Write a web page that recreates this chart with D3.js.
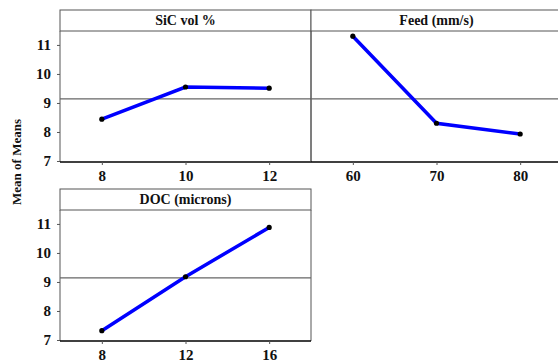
<!DOCTYPE html>
<html>
<head>
<meta charset="utf-8">
<script src="https://cdn.jsdelivr.net/npm/d3@7"></script>
<style>
  body { margin: 0; background: #fff; }
  svg { display: block; }
  text { font-family: "Liberation Serif", "Times New Roman", serif; font-weight: bold; fill: #111; }
</style>
</head>
<body>
<div id="chart"></div>
<script>
(function mainEffects() {

  // factor levels and mean of means per level
  var sicLevels = ["8", "10", "12"];
  var sicMeans = [8.44, 9.55, 9.51];

  var feedLevels = ["60", "70", "80"];
  var feedMeans = [11.30, 8.30, 7.93];

  var docLevels = ["8", "12", "16"];
  var docMeans = [7.32, 9.18, 10.88];

  var yTicks = [7, 8, 9, 10, 11];
  var grandMean = 9.14;

  var panels = [
    { title: "SiC vol %", levels: sicLevels, means: sicMeans, col: 0, row: 0 },
    { title: "Feed (mm/s)", levels: feedLevels, means: feedMeans, col: 1, row: 0 },
    { title: "DOC (microns)", levels: docLevels, means: docMeans, col: 0, row: 1 }
  ];

  var width = 558, height = 363;
  var left = 60, panelW = 251, stripH = 21, plotH = 131;
  var rowTop = [10, 189];

  var svg = d3.select("#chart").append("svg")
    .attr("width", width)
    .attr("height", height);

  var y = d3.scaleLinear()
    .domain([6.965, 11.48])
    .range([plotH, 0]);

  panels.forEach(function(p) {
    var px = left + p.col * panelW;
    var py = rowTop[p.row];

    var g = svg.append("g")
      .attr("transform", "translate(" + px + "," + py + ")");

    // strip
    g.append("rect")
      .attr("x", 0).attr("y", 0)
      .attr("width", panelW).attr("height", stripH)
      .attr("fill", "#fff")
      .attr("stroke", "#555")
      .attr("stroke-width", 1);

    g.append("text")
      .attr("x", panelW / 2)
      .attr("y", stripH / 2)
      .attr("dy", "0.35em")
      .attr("text-anchor", "middle")
      .style("font-size", "14px")
      .text(p.title);

    var plot = g.append("g")
      .attr("transform", "translate(0," + stripH + ")");

    // frame sides
    plot.append("line")
      .attr("x1", 0).attr("x2", 0)
      .attr("y1", 0).attr("y2", plotH)
      .attr("stroke", "#555");
    plot.append("line")
      .attr("x1", panelW).attr("x2", panelW)
      .attr("y1", 0).attr("y2", plotH)
      .attr("stroke", "#555");

    var x = d3.scalePoint()
      .domain(p.levels)
      .range([0, panelW])
      .padding(0.5);

    // grand mean reference line
    plot.append("line")
      .attr("x1", 0).attr("x2", panelW)
      .attr("y1", y(grandMean)).attr("y2", y(grandMean))
      .attr("stroke", "#666")
      .attr("stroke-width", 1.2);

    // y axis only on the left column
    if (p.col === 0) {
      var ya = plot.append("g")
        .call(d3.axisLeft(y).tickValues(yTicks).tickFormat(d3.format("d")).tickSize(3).tickPadding(6));
      ya.select(".domain").remove();
      ya.selectAll(".tick line").attr("stroke", "#555");
      ya.selectAll(".tick text")
        .style("font-size", "15px")
        .attr("fill", "#111");
    }

    var xa = plot.append("g")
      .attr("transform", "translate(0," + plotH + ")")
      .call(d3.axisBottom(x).tickSize(3).tickPadding(5));
    xa.select(".domain")
      .attr("stroke", "#000")
      .attr("stroke-width", 1.6)
      .attr("d", "M0,0H" + panelW);
    xa.selectAll(".tick line").attr("stroke", "#555");
    xa.selectAll(".tick text")
      .style("font-size", "15px")
      .attr("fill", "#111");

    var data = p.levels.map(function(l, i) {
      return { level: l, mean: p.means[i] };
    });

    var line = d3.line()
      .x(function(d) { return x(d.level); })
      .y(function(d) { return y(d.mean); });

    plot.append("path")
      .datum(data)
      .attr("fill", "none")
      .attr("stroke", "#0000ff")
      .attr("stroke-width", 3.5)
      .attr("d", line);

    plot.selectAll(".pt")
      .data(data)
      .enter()
      .append("circle")
      .attr("class", "pt")
      .attr("cx", function(d) { return x(d.level); })
      .attr("cy", function(d) { return y(d.mean); })
      .attr("r", 2.6)
      .attr("fill", "#000");
  });

  svg.append("text")
    .text("Mean of Means")
    .attr("text-anchor", "middle")
    .style("font-size", "13px")
    .attr("transform", "translate(21,162) rotate(-90)");

})();
</script>
</body>
</html>
